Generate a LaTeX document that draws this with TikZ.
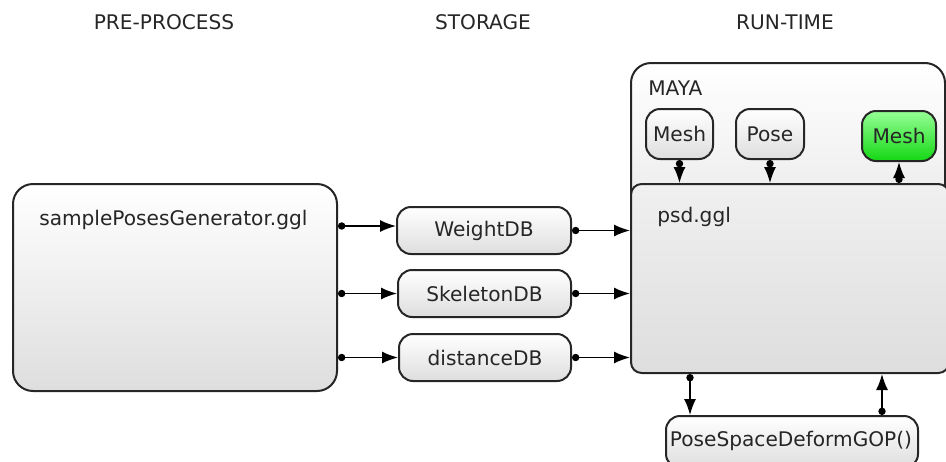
\documentclass[tikz,border=0pt]{standalone}
\usepackage{fontspec}
\setmainfont{DejaVu Sans}
\usetikzlibrary{arrows.meta}
\begin{document}
\begin{tikzpicture}[x=0.75pt,y=-0.75pt,
  every node/.style={font=\fontsize{15.1pt}{18pt}\selectfont, text=black!85},
  box/.style={draw=black!85, line width=1.5pt, top color=white, bottom color=black!13, rounded corners=10.5pt, inner sep=0pt, anchor=north west},
  bigbox/.style={box, rounded corners=15pt},
  psdbox/.style={box, rounded corners=8pt, top color=black!6, bottom color=black!13},
  greenbox/.style={box, top color={rgb,255:red,150;green,255;blue,150}, bottom color={rgb,255:red,20;green,215;blue,20}},
  lbl/.style={anchor=base west, inner sep=0pt},
  conn/.style={draw=black, line width=1.15pt, {Circle[length=5.5pt,width=5.5pt]}-{Latex[length=12pt,width=9pt]}}
]
\clip (0,0) rectangle (946,461);
% headers
\node (h1) at (164,22) {PRE-PROCESS};
\node (h2) at (483,22) {STORAGE};
\node (h3) at (785,22) {RUN-TIME};
% generator
\node[bigbox, minimum width=324*0.75pt, minimum height=207*0.75pt] (gen) at (12,183) {};
\node[lbl] (genl) at (39,225) {samplePosesGenerator.ggl};
% storage
\node[box, minimum width=174*0.75pt, minimum height=47*0.75pt] (wdb) at (396,206) {};
\node (wdbl) at (wdb.center) {WeightDB};
\node[box, minimum width=173*0.75pt, minimum height=47*0.75pt] (sdb) at (397,269) {};
\node (sdbl) at (sdb.center) {SkeletonDB};
\node[box, minimum width=172*0.75pt, minimum height=47*0.75pt] (ddb) at (398,333) {};
\node (ddbl) at (ddb.center) {distanceDB};
% maya
\node[bigbox, minimum width=314*0.75pt, minimum height=250*0.75pt] (maya) at (630,62) {};
\node[lbl] (mayal) at (648,95) {MAYA};
\node[box, minimum width=67*0.75pt, minimum height=50*0.75pt] (mesh1) at (645,108) {};
\node (mesh1l) at (mesh1.center) {Mesh};
\node[box, minimum width=68*0.75pt, minimum height=50*0.75pt] (pose) at (735,108) {};
\node (posel) at (pose.center) {Pose};
\node[greenbox, minimum width=74*0.75pt, minimum height=50*0.75pt] (mesh2) at (861,110) {};
\node (mesh2l) at (mesh2.center) {Mesh};
% psd
\node[psdbox, minimum width=318*0.75pt, minimum height=189*0.75pt] (psd) at (630,183) {};
\node[lbl] (psdl) at (657,222) {psd.ggl};
% GOP
\node[box, minimum width=252*0.75pt, minimum height=52*0.75pt] (gop) at (665,415) {};
\node (gopl) at (791,441) {PoseSpaceDeformGOP()};
% connectors
\draw[conn] (gen.east |- 0,226) -- (wdb.west |- 0,226);
\draw[conn] (gen.east |- sdb.west) -- (sdb.west);
\draw[conn] (gen.east |- ddb.west) -- (ddb.west);
\draw[conn] (wdb.east) -- (wdb.east -| psd.west);
\draw[conn] (sdb.east) -- (sdb.east -| psd.west);
\draw[conn] (ddb.east) -- (ddb.east -| psd.west);
\draw[conn] (mesh1.south) -- (mesh1.south |- psd.north);
\draw[conn] (pose.south) -- (pose.south |- psd.north);
\draw[conn] (mesh2.south |- psd.north) -- (mesh2.south);
\draw[conn] (psd.south -| 690,0) -- (gop.north -| 690,0);
\draw[conn] (gop.north -| 882,0) -- (psd.south -| 882,0);
\end{tikzpicture}
\end{document}
